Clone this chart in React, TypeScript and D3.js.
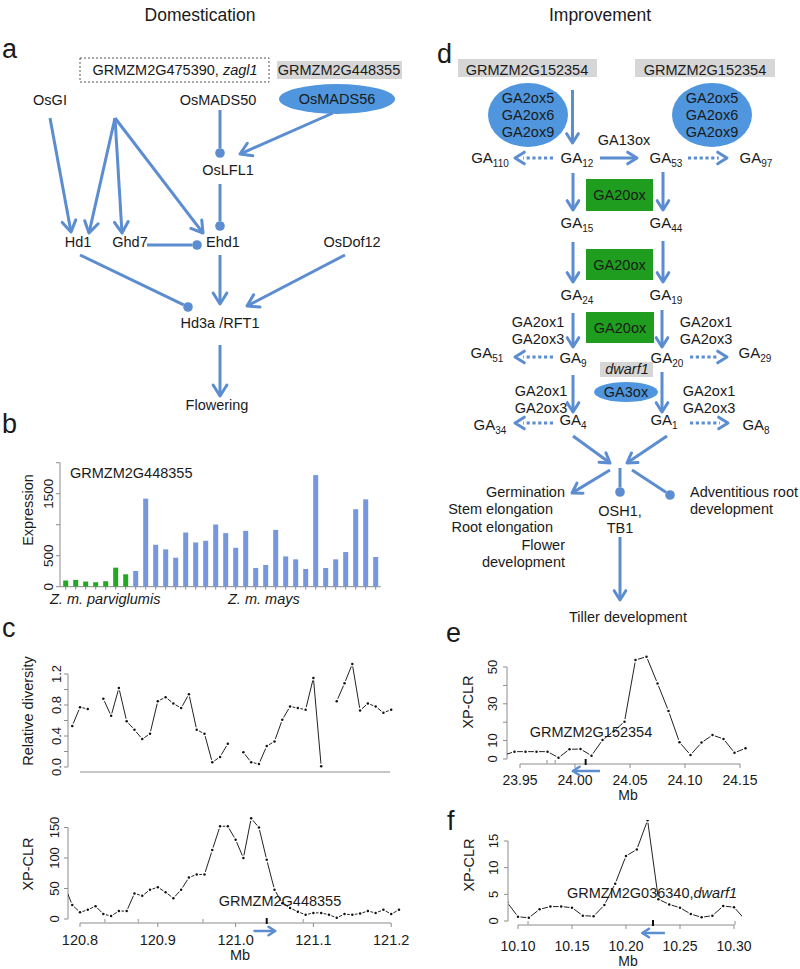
import React from "react";
import * as d3 from "d3";

const FONT = "'Liberation Sans', Arial, Helvetica, sans-serif";
const BLUE = "#5b8dd0";
const ELLIPSE = "#4f96de";
const GREEN_BOX = "#1f9d1f";
const GRAY_BOX = "#d6d6d6";
const TEXT = "#1a1a1a";
const AXIS = "#8c8c8c";
const BAR_GREEN = "#22a822";
const BAR_BLUE = "#7696de";

// ---------- Panel b: expression of GRMZM2G448355 ----------
const parviglumisExpression = [100, 110, 83, 72, 88, 307, 200];
const maysExpression = [254, 1420, 676, 602, 468, 874, 714, 741, 1003, 864, 628, 901, 302, 350, 917, 489, 441, 286, 1800, 302, 441, 559, 1249, 1409, 479];
const expressionTicks = [0, 500, 1000, 1500, 2000];
const expressionTickLabels = ["0", "500", "", "1500", ""];

// ---------- Panel c: relative diversity & XP-CLR (chr region, Mb) ----------
const diversityMb = [120.79, 120.80, 120.81, 120.82, 120.83, 120.84, 120.85, 120.86, 120.87, 120.88, 120.89, 120.90, 120.91, 120.92, 120.93, 120.94, 120.95, 120.96, 120.97, 120.98, 120.99, 121.00, 121.01, 121.02, 121.03, 121.04, 121.05, 121.06, 121.07, 121.08, 121.09, 121.10, 121.11, 121.12, 121.13, 121.14, 121.15, 121.16, 121.17, 121.18, 121.19, 121.20];
const diversityValues: (number | null)[] = [0.53, 0.77, 0.75, null, 0.88, 0.66, 1.02, 0.59, 0.48, 0.36, 0.43, 0.85, 0.90, 0.82, 0.76, 0.94, 0.48, 0.43, 0.06, 0.13, 0.30, null, 0.19, 0.06, 0.04, 0.27, 0.33, 0.61, 0.78, 0.76, 0.74, 1.15, 0.01, null, 0.85, 1.08, 1.33, 0.73, 0.82, 0.78, 0.70, 0.74];
const diversityTicks = [0, 0.2, 0.4, 0.6, 0.8, 1.0, 1.2];
const diversityTickLabels = ["0.0", "", "0.4", "", "0.8", "", "1.2"];

const cXpclrMb = [120.78, 120.79, 120.80, 120.81, 120.82, 120.83, 120.84, 120.85, 120.86, 120.87, 120.88, 120.89, 120.90, 120.91, 120.92, 120.93, 120.94, 120.95, 120.96, 120.97, 120.98, 120.99, 121.00, 121.01, 121.02, 121.03, 121.04, 121.05, 121.06, 121.07, 121.08, 121.09, 121.10, 121.11, 121.12, 121.13, 121.14, 121.15, 121.16, 121.17, 121.18, 121.19, 121.20, 121.21];
const cXpclrValues: (number | null)[] = [55, 23, 11, 15, 21, 8, 5, 13, 13, 42, 38, 48, 52, 44, 34, 48, 68, 73, 73, 113, 152, 152, 130, 100, 165, 150, 97, 48, 26, 18, 12, 7, 10, 10, 7, 2, 8, 7, 9, 13, 10, 15, 8, 15];
const cXpclrTicks = [0, 50, 100, 150];
const cXpclrTickLabels = ["0", "50", "100", "150"];
const cMbTicks = [120.8, 120.9, 121.0, 121.1, 121.2];
const cMbTickLabels = ["120.8", "120.9", "121.0", "121.1", "121.2"];
const cOtherGenes = [120.832, 120.875, 120.958, 121.087];
const cGene = { name: "GRMZM2G448355", mb: 121.04, from: 121.023, to: 121.051 };

// ---------- Panel e: XP-CLR around GRMZM2G152354 ----------
const eMb = [23.935, 23.945, 23.955, 23.965, 23.975, 23.985, 23.995, 24.005, 24.015, 24.025, 24.035, 24.045, 24.055, 24.065, 24.075, 24.085, 24.095, 24.105, 24.115, 24.125, 24.135, 24.145, 24.155];
const eValues: (number | null)[] = [2, 4.0, 4.0, 4.0, 4.0, 0.7, 5.3, 5.4, 1.8, 10.3, 15, 20.3, 53.8, 55.6, 41.1, 26.1, 9.1, 2.2, 8.9, 13.0, 10.9, 3.4, 5.8];
const eTicks = [0, 10, 20, 30, 40, 50];
const eTickLabels = ["0", "10", "", "30", "", "50"];
const eMbTicks = [23.95, 24.0, 24.05, 24.1, 24.15];
const eMbTickLabels = ["23.95", "24.00", "24.05", "24.10", "24.15"];
const eOtherGenes = [23.9745, 23.982];
const eGene = { name: "GRMZM2G152354", mb: 24.0097, from: 24.0227, to: 23.998 };

// ---------- Panel f: XP-CLR around GRMZM2G036340 (dwarf1) ----------
const fMb = [10.09, 10.10, 10.11, 10.12, 10.13, 10.14, 10.15, 10.16, 10.17, 10.18, 10.19, 10.20, 10.21, 10.22, 10.23, 10.24, 10.25, 10.26, 10.27, 10.28, 10.29, 10.30, 10.31];
const fValues: (number | null)[] = [3.5, 0.8, 0.6, 2.2, 2.7, 2.7, 2.5, 1.0, 0.9, 3.0, 7.0, 12.2, 13.4, 18.9, 4.1, 3.1, 2.5, 1.3, 0.7, 1.0, 2.8, 2.6, 0.3];
const fTicks = [0, 5, 10, 15];
const fTickLabels = ["0", "5", "10", "15"];
const fMbTicks = [10.1, 10.15, 10.2, 10.25, 10.3];
const fMbTickLabels = ["10.10", "10.15", "10.20", "10.25", "10.30"];
const fOtherGenes = [10.1093, 10.3009];
const fGene = { mb: 10.225, from: 10.236, to: 10.215 };

// ---------- scales ----------
const bSamples = [
  ...parviglumisExpression.map((v, i) => ({ id: `p${i}`, v, color: BAR_GREEN })),
  ...maysExpression.map((v, i) => ({ id: `m${i}`, v, color: BAR_BLUE })),
];
const bX = d3.scaleBand<string>().domain(bSamples.map((d) => d.id)).range([60.7, 380.7]).paddingInner(0.5).paddingOuter(0.25);
const bY = d3.scaleLinear().domain([0, 2000]).range([586.7, 462.7]);

const cX = d3.scaleLinear().domain([120.8, 121.2]).range([80, 391.2]);
const cDivY = d3.scaleLinear().domain([0, 1.2]).range([767, 674]);
const cXpY = d3.scaleLinear().domain([0, 150]).range([919, 827.5]);

const eX = d3.scaleLinear().domain([23.95, 24.15]).range([520, 740]);
const eY = d3.scaleLinear().domain([0, 50]).range([759, 667]);

const fX = d3.scaleLinear().domain([10.1, 10.3]).range([518, 734]);
const fY = d3.scaleLinear().domain([0, 15]).range([921, 841]);

// ---------- helpers ----------
function T(props: any) {
  const { children, ...rest } = props;
  return (
    <text fill={TEXT} fontSize={14.5} {...rest}>
      {children}
    </text>
  );
}

function Arrow({ x1, y1, x2, y2, head = "arrow", dotted = false, w = 3, hl = 12 }: any) {
  const dx = x2 - x1, dy = y2 - y1;
  const L = Math.hypot(dx, dy);
  const ux = dx / L, uy = dy / L;
  const ang = (32 * Math.PI) / 180;
  const rot = (vx: number, vy: number, a: number) => [vx * Math.cos(a) - vy * Math.sin(a), vx * Math.sin(a) + vy * Math.cos(a)];
  const [ax, ay] = rot(-ux, -uy, ang);
  const [bx, by] = rot(-ux, -uy, -ang);
  if (head === "circle") {
    const r = 4.8;
    return (
      <g>
        <line x1={x1} y1={y1} x2={x2 - ux * r} y2={y2 - uy * r} stroke={BLUE} strokeWidth={w} />
        <circle cx={x2} cy={y2} r={r} fill={BLUE} />
      </g>
    );
  }
  const endX = dotted ? x2 - ux * hl * 0.75 : x2 - ux * 1.2;
  const endY = dotted ? y2 - uy * hl * 0.75 : y2 - uy * 1.2;
  return (
    <g>
      <line x1={x1} y1={y1} x2={endX} y2={endY} stroke={BLUE} strokeWidth={w} strokeDasharray={dotted ? "3.2 2.6" : undefined} />
      {head === "arrow" && (
        <path
          d={`M${x2 + ax * hl},${y2 + ay * hl} L${x2},${y2} L${x2 + bx * hl},${y2 + by * hl}`}
          fill="none"
          stroke={BLUE}
          strokeWidth={w}
          strokeLinecap="round"
          strokeLinejoin="round"
        />
      )}
    </g>
  );
}

function RLine({ xs, ys, x, y, clipId }: any) {
  const pts: ([number, number] | null)[] = xs.map((m: number, i: number) => (ys[i] == null ? null : [x(m), y(ys[i])]));
  const gap = 2.6;
  const segs: number[][] = [];
  for (let i = 0; i < pts.length - 1; i++) {
    const a = pts[i], b = pts[i + 1];
    if (!a || !b) continue;
    const dx = b[0] - a[0], dy = b[1] - a[1];
    const L = Math.hypot(dx, dy);
    if (L <= 2 * gap) continue;
    const ux = dx / L, uy = dy / L;
    segs.push([a[0] + ux * gap, a[1] + uy * gap, b[0] - ux * gap, b[1] - uy * gap]);
  }
  return (
    <g clipPath={`url(#${clipId})`}>
      {segs.map((s, i) => (
        <line key={i} x1={s[0]} y1={s[1]} x2={s[2]} y2={s[3]} stroke="#222" strokeWidth={1} />
      ))}
      {pts.map((p, i) => (p ? <circle key={i} cx={p[0]} cy={p[1]} r={1.25} fill="#111" /> : null))}
    </g>
  );
}

function YAxis({ x, scale, ticks, labels, labelX, title, titleX, titleY, fs = 13 }: any) {
  return (
    <g>
      <line x1={x} x2={x} y1={scale(ticks[0])} y2={scale(ticks[ticks.length - 1])} stroke={AXIS} />
      {ticks.map((t: number, i: number) => (
        <g key={i}>
          <line x1={x - 4} x2={x} y1={scale(t)} y2={scale(t)} stroke={AXIS} />
          {labels[i] ? (
            <text transform={`translate(${labelX},${scale(t)}) rotate(-90)`} textAnchor="middle" fontSize={fs} fill={TEXT}>
              {labels[i]}
            </text>
          ) : null}
        </g>
      ))}
      {title ? (
        <text transform={`translate(${titleX},${titleY}) rotate(-90)`} textAnchor="middle" fontSize={14.5} fill={TEXT}>
          {title}
        </text>
      ) : null}
    </g>
  );
}

function XAxis({ y, scale, ticks, labels, labelY, mbX, mbY, fs = 14.5 }: any) {
  return (
    <g>
      <line x1={scale(ticks[0])} x2={scale(ticks[ticks.length - 1])} y1={y} y2={y} stroke={AXIS} />
      {ticks.map((t: number, i: number) => (
        <g key={i}>
          <line x1={scale(t)} x2={scale(t)} y1={y} y2={y + 4} stroke={AXIS} />
          <text x={scale(t)} y={labelY} textAnchor="middle" fontSize={fs} fill={TEXT}>
            {labels[i]}
          </text>
        </g>
      ))}
      <text x={mbX} y={mbY} textAnchor="middle" fontSize={fs} fill={TEXT}>
        Mb
      </text>
    </g>
  );
}

function GeneMarks({ scale, y, others, gene }: any) {
  return (
    <g>
      {others.map((m: number, i: number) => (
        <line key={i} x1={scale(m)} x2={scale(m)} y1={y - 4} y2={y} stroke="#b5b5b5" strokeWidth={1.5} />
      ))}
      <line x1={scale(gene.mb)} x2={scale(gene.mb)} y1={y - 5} y2={y + 1} stroke="#111" strokeWidth={2} />
    </g>
  );
}

function GA({ x, y, sub }: any) {
  return (
    <text x={x} y={y} textAnchor="middle" fontSize={15} fill={TEXT}>
      GA
      <tspan fontSize={10} dy={4}>
        {sub}
      </tspan>
    </text>
  );
}

// ---------- diagram node lists ----------
const aNodes = [
  { label: "OsGI", x: 50, y: 105 },
  { label: "OsMADS50", x: 218, y: 105 },
  { label: "OsLFL1", x: 228, y: 175 },
  { label: "Hd1", x: 78, y: 247 },
  { label: "Ghd7", x: 130, y: 247 },
  { label: "Ehd1", x: 223, y: 247 },
  { label: "OsDof12", x: 352, y: 247 },
  { label: "Hd3a /RFT1", x: 220, y: 328 },
  { label: "Flowering", x: 217, y: 410 },
];
const aEdges = [
  { x1: 50, y1: 118, x2: 71, y2: 232, head: "arrow" },
  { x1: 115, y1: 118, x2: 89, y2: 233, head: "arrow" },
  { x1: 115, y1: 118, x2: 122, y2: 233, head: "arrow" },
  { x1: 115, y1: 118, x2: 203, y2: 233, head: "arrow" },
  { x1: 220, y1: 110, x2: 220, y2: 153, head: "circle" },
  { x1: 333, y1: 113, x2: 240, y2: 154, head: "arrow" },
  { x1: 220, y1: 184, x2: 220, y2: 226, head: "circle" },
  { x1: 147, y1: 245, x2: 197, y2: 245, head: "circle" },
  { x1: 80, y1: 255, x2: 188, y2: 307, head: "circle" },
  { x1: 220, y1: 255, x2: 220, y2: 304, head: "arrow" },
  { x1: 345, y1: 255, x2: 247, y2: 306, head: "arrow" },
  { x1: 220, y1: 345, x2: 220, y2: 396, head: "arrow" },
];

const dGA = [
  { sub: "110", x: 490, y: 163 }, { sub: "12", x: 577, y: 163 }, { sub: "53", x: 666, y: 163 }, { sub: "97", x: 756, y: 163 },
  { sub: "15", x: 577, y: 228 }, { sub: "44", x: 666, y: 228 },
  { sub: "24", x: 577, y: 300 }, { sub: "19", x: 666, y: 300 },
  { sub: "51", x: 487, y: 358 }, { sub: "9", x: 573, y: 363 }, { sub: "20", x: 667, y: 363 }, { sub: "29", x: 755, y: 358 },
  { sub: "34", x: 490, y: 430 }, { sub: "4", x: 573, y: 425 }, { sub: "1", x: 664, y: 425 }, { sub: "8", x: 756, y: 430 },
];
const dEdges = [
  { x1: 572.5, y1: 90, x2: 572.5, y2: 143 },
  { x1: 553, y1: 158, x2: 515, y2: 158, dotted: true },
  { x1: 600, y1: 158, x2: 637, y2: 158 },
  { x1: 688, y1: 158, x2: 727, y2: 158, dotted: true },
  { x1: 573, y1: 173, x2: 573, y2: 210 },
  { x1: 663, y1: 172, x2: 663, y2: 210 },
  { x1: 573, y1: 242, x2: 573, y2: 282 },
  { x1: 663, y1: 241, x2: 663, y2: 282 },
  { x1: 573, y1: 313, x2: 573, y2: 347 },
  { x1: 662, y1: 310, x2: 662, y2: 347 },
  { x1: 553, y1: 357, x2: 515, y2: 357, dotted: true },
  { x1: 690, y1: 357, x2: 727, y2: 357, dotted: true },
  { x1: 573, y1: 375, x2: 573, y2: 412 },
  { x1: 662, y1: 372, x2: 662, y2: 412 },
  { x1: 553, y1: 423, x2: 515, y2: 423, dotted: true },
  { x1: 690, y1: 423, x2: 728, y2: 423, dotted: true },
  { x1: 573, y1: 436, x2: 610, y2: 463 },
  { x1: 667, y1: 436, x2: 627, y2: 463 },
  { x1: 610, y1: 470, x2: 572, y2: 493 },
  { x1: 620, y1: 468, x2: 620, y2: 492, head: "circle" },
  { x1: 632, y1: 470, x2: 670, y2: 495, head: "circle" },
  { x1: 620, y1: 537, x2: 620, y2: 600 },
];
const dEnzymeLabels = [
  { lines: ["GA2ox1", "GA2ox3"], x: 538, y: 327 },
  { lines: ["GA2ox1", "GA2ox3"], x: 706, y: 327 },
  { lines: ["GA2ox1", "GA2ox3"], x: 541, y: 396 },
  { lines: ["GA2ox1", "GA2ox3"], x: 709, y: 396 },
];
const dGreenBoxes = [
  { x: 586, y: 179, w: 67, h: 32 },
  { x: 586, y: 249, w: 67, h: 31 },
  { x: 586, y: 312, w: 68, h: 31 },
];
const dOutcomesLeft = [
  { t: "Germination", x: 565, y: 497 },
  { t: "Stem elongation", x: 553, y: 514 },
  { t: "Root elongation", x: 553, y: 532 },
  { t: "Flower", x: 565, y: 550 },
  { t: "development", x: 565, y: 567 },
];

export default function App() {
  return (
    <svg width={800} height={969} style={{ position: "absolute", left: 0, top: 0, display: "block", background: "#fff" }} fontFamily={FONT}>
      <defs>
        <clipPath id="clipC"><rect x={68} y={640} width={334} height={300} /></clipPath>
        <clipPath id="clipE"><rect x={507} y={640} width={241} height={130} /></clipPath>
        <clipPath id="clipF"><rect x={508} y={820} width={234} height={110} /></clipPath>
      </defs>
      <rect x={0} y={0} width={800} height={969} fill="#fff" />

      {/* titles */}
      <T x={200} y={21} textAnchor="middle" fontSize={17.5}>Domestication</T>
      <T x={600} y={21} textAnchor="middle" fontSize={17.5}>Improvement</T>

      {/* panel letters */}
      <T x={2} y={58} fontSize={27}>a</T>
      <T x={2} y={433} fontSize={27}>b</T>
      <T x={2} y={637} fontSize={27}>c</T>
      <T x={437} y={63} fontSize={27}>d</T>
      <T x={446} y={642} fontSize={27}>e</T>
      <T x={447} y={830} fontSize={27}>f</T>

      {/* ---------- Panel a ---------- */}
      <rect x={80} y={58} width={189} height={24} fill="none" stroke="#555" strokeWidth={1} strokeDasharray="2 2" />
      <T x={175} y={75} textAnchor="middle">
        GRMZM2G475390, <tspan fontStyle="italic">zagl1</tspan>
      </T>
      <rect x={277} y={61} width={125} height={18} fill={GRAY_BOX} />
      <T x={339} y={75} textAnchor="middle">GRMZM2G448355</T>
      <ellipse cx={337} cy={99} rx={58} ry={15} fill={ELLIPSE} />
      <T x={337} y={104} textAnchor="middle">OsMADS56</T>
      {aNodes.map((n) => (
        <T key={n.label} x={n.x} y={n.y} textAnchor="middle">{n.label}</T>
      ))}
      {aEdges.map((e, i) => (
        <Arrow key={i} {...e} hl={13} />
      ))}

      {/* ---------- Panel b ---------- */}
      <YAxis x={60} scale={bY} ticks={expressionTicks} labels={expressionTickLabels} labelX={53} title="Expression" titleX={33} titleY={510} fs={13.5} />
      <line x1={60} x2={380.7} y1={bY(0)} y2={bY(0)} stroke={AXIS} />
      {bSamples.map((d) => (
        <g key={d.id}>
          <rect x={bX(d.id)} y={bY(d.v)} width={bX.bandwidth()} height={bY(0) - bY(d.v)} fill={d.color} />
          <line x1={(bX(d.id) as number) + bX.bandwidth() / 2} x2={(bX(d.id) as number) + bX.bandwidth() / 2} y1={bY(0)} y2={bY(0) + 3} stroke={AXIS} />
        </g>
      ))}
      <T x={70} y={478}>GRMZM2G448355</T>
      <T x={50} y={604} fontStyle="italic">Z. m. parviglumis</T>
      <T x={228} y={604} fontStyle="italic">Z. m. mays</T>

      {/* ---------- Panel c ---------- */}
      <YAxis x={68} scale={cDivY} ticks={diversityTicks} labels={diversityTickLabels} labelX={61} title="Relative diversity" titleX={33} titleY={711} />
      <line x1={80} x2={390} y1={772} y2={772} stroke={AXIS} />
      <RLine xs={diversityMb} ys={diversityValues} x={cX} y={cDivY} clipId="clipC" />

      <YAxis x={68} scale={cXpY} ticks={cXpclrTicks} labels={cXpclrTickLabels} labelX={59} title="XP-CLR" titleX={33} titleY={864} />
      <XAxis y={923} scale={cX} ticks={cMbTicks} labels={cMbTickLabels} labelY={945} mbX={240} mbY={960} />
      <GeneMarks scale={cX} y={923} others={cOtherGenes} gene={cGene} />
      <RLine xs={cXpclrMb} ys={cXpclrValues} x={cX} y={cXpY} clipId="clipC" />
      <T x={280} y={906} textAnchor="middle">{cGene.name}</T>
      <Arrow x1={cX(cGene.from)} y1={931} x2={cX(cGene.to)} y2={931} w={2.5} hl={8} />

      {/* ---------- Panel d ---------- */}
      <rect x={458} y={59} width={139} height={18} fill={GRAY_BOX} />
      <T x={527} y={75} textAnchor="middle">GRMZM2G152354</T>
      <rect x={635} y={59} width={140} height={18} fill={GRAY_BOX} />
      <T x={705} y={75} textAnchor="middle">GRMZM2G152354</T>
      {[528, 712].map((cx) => (
        <g key={cx}>
          <ellipse cx={cx} cy={115} rx={40} ry={32} fill={ELLIPSE} />
          <T x={cx} y={103} textAnchor="middle">GA2ox5</T>
          <T x={cx} y={120} textAnchor="middle">GA2ox6</T>
          <T x={cx} y={137} textAnchor="middle">GA2ox9</T>
        </g>
      ))}
      <T x={624} y={145} textAnchor="middle">GA13ox</T>
      {dGreenBoxes.map((b, i) => (
        <g key={i}>
          <rect x={b.x} y={b.y} width={b.w} height={b.h} fill={GREEN_BOX} />
          <T x={b.x + b.w / 2} y={b.y + b.h / 2 + 5} textAnchor="middle">GA20ox</T>
        </g>
      ))}
      <rect x={600} y={362} width={53} height={15} fill={GRAY_BOX} />
      <T x={627} y={374} textAnchor="middle" fontStyle="italic">dwarf1</T>
      <ellipse cx={626} cy={392} rx={32} ry={10} fill={ELLIPSE} />
      <T x={626} y={397} textAnchor="middle">GA3ox</T>
      {dGA.map((g) => (
        <GA key={g.sub} {...g} />
      ))}
      {dEdges.map((e, i) => (
        <Arrow key={i} {...e} hl={11} />
      ))}
      {dEnzymeLabels.map((l, i) => (
        <g key={i}>
          <T x={l.x} y={l.y} textAnchor="middle">{l.lines[0]}</T>
          <T x={l.x} y={l.y + 16.5} textAnchor="middle">{l.lines[1]}</T>
        </g>
      ))}
      {dOutcomesLeft.map((o) => (
        <T key={o.t + o.y} x={o.x} y={o.y} textAnchor="end">{o.t}</T>
      ))}
      <T x={620} y={516} textAnchor="middle">OSH1,</T>
      <T x={620} y={533} textAnchor="middle">TB1</T>
      <T x={690} y={497}>Adventitious root</T>
      <T x={690} y={514}>development</T>
      <T x={628} y={622} textAnchor="middle">Tiller development</T>

      {/* ---------- Panel e ---------- */}
      <YAxis x={507} scale={eY} ticks={eTicks} labels={eTickLabels} labelX={497} title="XP-CLR" titleX={473} titleY={702} />
      <XAxis y={764} scale={eX} ticks={eMbTicks} labels={eMbTickLabels} labelY={785} mbX={628} mbY={800} fs={14} />
      <GeneMarks scale={eX} y={764} others={eOtherGenes} gene={eGene} />
      <RLine xs={eMb} ys={eValues} x={eX} y={eY} clipId="clipE" />
      <T x={591} y={737} textAnchor="middle">{eGene.name}</T>
      <Arrow x1={eX(eGene.from)} y1={771} x2={eX(eGene.to)} y2={771} w={2.5} hl={8} />

      {/* ---------- Panel f ---------- */}
      <YAxis x={508} scale={fY} ticks={fTicks} labels={fTickLabels} labelX={498} title="XP-CLR" titleX={474} titleY={865} />
      <XAxis y={925} scale={fX} ticks={fMbTicks} labels={fMbTickLabels} labelY={951} mbX={628} mbY={966} fs={14} />
      <GeneMarks scale={fX} y={925} others={fOtherGenes} gene={fGene} />
      <RLine xs={fMb} ys={fValues} x={fX} y={fY} clipId="clipF" />
      <T x={567} y={898}>
        GRMZM2G036340,<tspan fontStyle="italic">dwarf1</tspan>
      </T>
      <Arrow x1={fX(fGene.from)} y1={933} x2={fX(fGene.to)} y2={933} w={2.5} hl={8} />
    </svg>
  );
}
